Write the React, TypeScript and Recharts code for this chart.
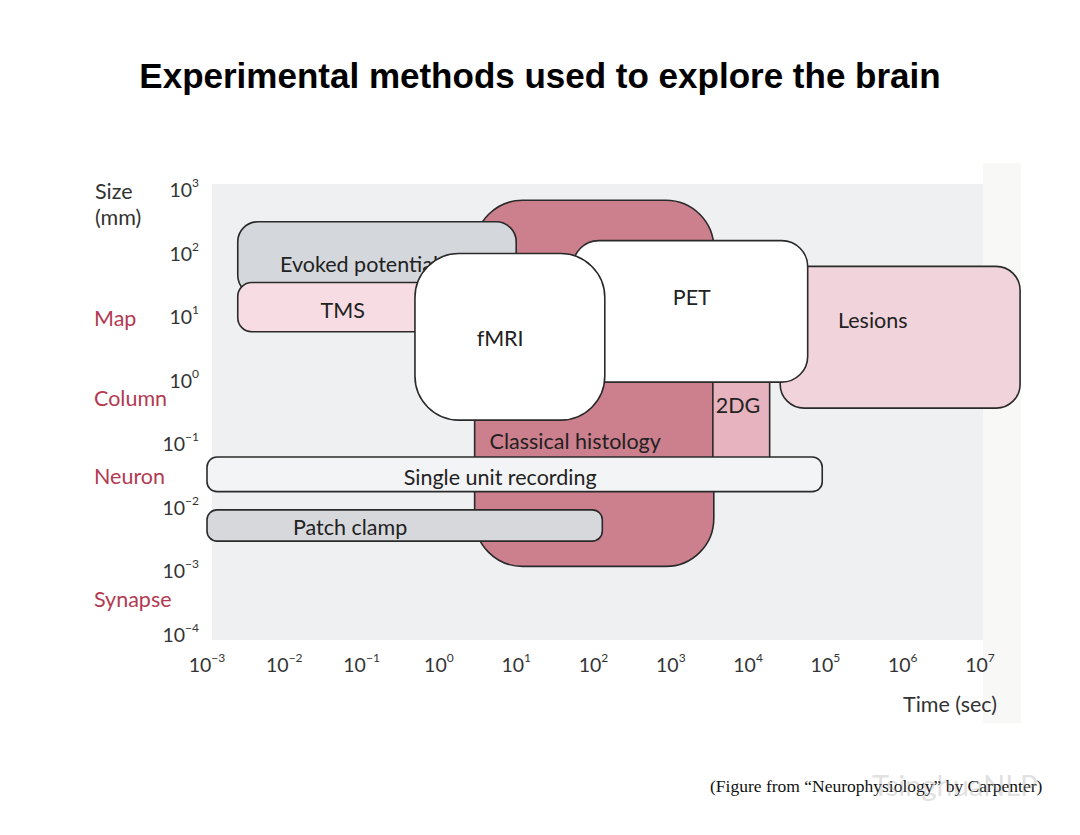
import React from 'react';
import { ScatterChart, Scatter, XAxis, YAxis, ReferenceArea, Rectangle } from 'recharts';

// methods, drawn back to front
const methods = [
  'Classical histology',
  '2DG',
  'Lesions',
  'PET',
  'Evoked potentials',
  'TMS',
  'fMRI',
  'Single unit recording',
  'Patch clamp',
];
// time span (sec)
const timeStart = [2.9, 3500, 26000, 54, 0.0025, 0.0025, 0.49, 0.001, 0.001];
const timeEnd = [3600, 19000, 3.3e7, 59000, 10, 3, 140, 91000, 130];
// size span (mm)
const sizeStart = [0.0012, 0.04, 0.37, 0.95, 22, 5.9, 0.24, 0.018, 0.003];
const sizeEnd = [690, 18, 63, 160, 316, 35, 100, 0.063, 0.0093];
// where each name is written (sec, mm)
const labelTime = [58, 7400, 4.1e5, 1870, 0.0088, 0.057, 6.2, 6.2, 0.071];
const labelSize = [0.112, 0.42, 9.1, 21, 69, 13, 4.7, 0.031, 0.005];

const timeTicks = [1e-3, 1e-2, 1e-1, 1, 10, 100, 1e3, 1e4, 1e5, 1e6, 1e7];
const sizeTicks = [1e-4, 1e-3, 1e-2, 1e-1, 1, 10, 100, 1e3];
const levels = ['Map', 'Column', 'Neuron', 'Synapse'];
const levelSize = [9.4, 0.51, 0.031, 0.00036];

const fills = ['#cc7f8d', '#e6b3be', '#f1d3db', '#ffffff', '#d4d7db', '#f7dde3', '#ffffff', '#f3f4f6', '#d6d8db'];
const radii = [48, 0, 24, 26, 20, 14, 44, 10, 10];
const anchors = ['middle', 'middle', 'middle', 'middle', 'start', 'middle', 'middle', 'middle', 'middle'];

const FONT = 'Lato, "Noto Sans", sans-serif';
const RED = '#b23a52';

const anchorPoints = methods.map((m, i) => ({ name: m, time: labelTime[i], size: labelSize[i] }));

function MethodBox(props: any) {
  const { x, y, width, height, i } = props;
  const lx0 = Math.log10(timeStart[i]);
  const lx1 = Math.log10(timeEnd[i]);
  const ly0 = Math.log10(sizeStart[i]);
  const ly1 = Math.log10(sizeEnd[i]);
  const tx = x + ((Math.log10(labelTime[i]) - lx0) / (lx1 - lx0)) * width;
  const ty = y + ((ly1 - Math.log10(labelSize[i])) / (ly1 - ly0)) * height;
  return (
    <g>
      <Rectangle x={x} y={y} width={width} height={height} radius={radii[i]} fill={fills[i]} stroke="#2a2a2a" strokeWidth={1.6} />
      <text x={tx} y={ty} textAnchor={anchors[i]} dominantBaseline="central" fontFamily={FONT} fontSize={21.5} fill="#222">
        {methods[i]}
      </text>
    </g>
  );
}

const sup = (v: number) => {
  const e = Math.round(Math.log10(v));
  return e < 0 ? '\u2212' + Math.abs(e) : String(e);
};

function TimeTick(props: any) {
  const { x, y, payload } = props;
  return (
    <text x={x} y={y + 29} textAnchor="middle" fontFamily={FONT} fontSize={19.5} fill="#333">
      <tspan>10</tspan>
      <tspan dy={-10} fontSize={12}>{sup(payload.value)}</tspan>
    </text>
  );
}

function SizeTick(props: any) {
  const { x, y, payload } = props;
  return (
    <text x={x} y={y + 7} textAnchor="end" fontFamily={FONT} fontSize={19.5} fill="#333">
      <tspan>10</tspan>
      <tspan dy={-10} fontSize={12}>{sup(payload.value)}</tspan>
    </text>
  );
}

function LevelTick(props: any) {
  const { x, y, payload } = props;
  const idx = levelSize.indexOf(payload.value);
  return (
    <text x={x - 55} y={y + 7} textAnchor="start" fontFamily={FONT} fontSize={21.5} fill={RED}>
      {levels[idx]}
    </text>
  );
}

export default function App() {
  return (
    <div style={{ position: 'absolute', left: 0, top: 0, width: 1080, height: 835, background: '#fff', overflow: 'hidden' }}>
      <div
        style={{
          position: 'absolute',
          left: 0,
          top: 56,
          width: 1080,
          textAlign: 'center',
          fontFamily: '"Liberation Sans", Arial, sans-serif',
          fontWeight: 'bold',
          fontSize: 35,
          color: '#000',
        }}
      >
        Experimental methods used to explore the brain
      </div>
      {/* scanned page behind the figure */}
      <div style={{ position: 'absolute', left: 983, top: 163, width: 38, height: 560, background: '#f8f8f7' }} />
      <div style={{ position: 'absolute', left: 212, top: 184, width: 771, height: 456, background: '#eef0f2' }} />
      <div style={{ position: 'absolute', left: 0, top: 0 }}>
        <ScatterChart width={1080} height={835} margin={{ top: 190, right: 100, bottom: 110, left: 77 }}>
          <XAxis
            dataKey="time"
            type="number"
            scale="log"
            domain={[1e-3, 1e7]}
            ticks={timeTicks}
            interval={0}
            allowDataOverflow
            axisLine={false}
            tickLine={false}
            height={90}
            tick={<TimeTick />}
            label={{
              content: (p: any) => (
                <text x={p.viewBox.x + p.viewBox.width + 17} y={p.viewBox.y + 77} textAnchor="end" fontFamily={FONT} fontSize={21.5} fill="#333">
                  Time (sec)
                </text>
              ),
            }}
          />
          <YAxis
            dataKey="size"
            type="number"
            scale="log"
            domain={[1e-4, 1e3]}
            ticks={sizeTicks}
            interval={0}
            allowDataOverflow
            axisLine={false}
            tickLine={false}
            width={50}
            tick={<SizeTick />}
          />
          <YAxis
            yAxisId="level"
            type="number"
            scale="log"
            domain={[1e-4, 1e3]}
            ticks={levelSize}
            interval={0}
            allowDataOverflow
            axisLine={false}
            tickLine={false}
            width={80}
            tick={<LevelTick />}
            label={{
              content: (p: any) => (
                <text fontFamily={FONT} fontSize={21.5} fill="#333">
                  <tspan x={95} y={p.viewBox.y + 9}>Size</tspan>
                  <tspan x={95} y={p.viewBox.y + 35}>(mm)</tspan>
                </text>
              ),
            }}
          />
          {methods.map((m, i) => (
            <ReferenceArea
              key={m}
              x1={timeStart[i]}
              x2={timeEnd[i]}
              y1={sizeStart[i]}
              y2={sizeEnd[i]}
              ifOverflow="visible"
              shape={(p: any) => <MethodBox {...p} i={i} />}
            />
          ))}
          {/* name anchors; the names themselves are drawn with their boxes */}
          <Scatter data={anchorPoints} isAnimationActive={false} shape={() => <g />} />
        </ScatterChart>
      </div>
      <div
        style={{
          position: 'absolute',
          left: 710,
          top: 776,
          fontFamily: '"Liberation Serif", serif',
          fontSize: 17.5,
          color: '#111',
          whiteSpace: 'nowrap',
        }}
      >
        (Figure from “Neurophysiology” by Carpenter)
      </div>
      <div
        style={{
          position: 'absolute',
          left: 872,
          top: 767,
          fontFamily: FONT,
          fontSize: 29,
          color: 'rgba(150,150,150,0.3)',
          whiteSpace: 'nowrap',
        }}
      >
        TsinghuaNLP
      </div>
    </div>
  );
}
